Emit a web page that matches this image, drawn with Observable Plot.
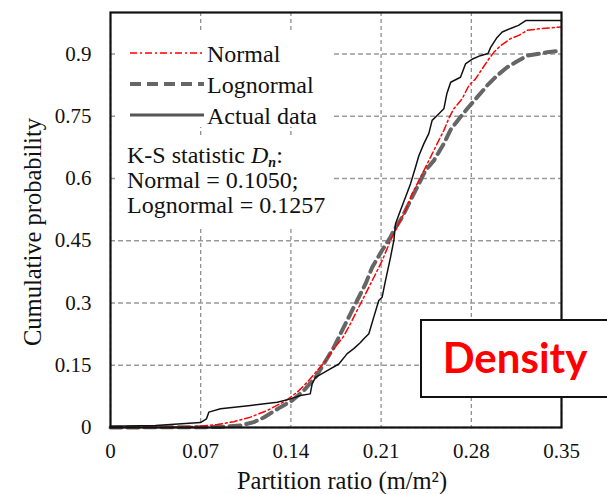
<!DOCTYPE html>
<html>
<head>
<meta charset="utf-8">
<script src="https://cdn.jsdelivr.net/npm/d3@7"></script>
<script src="https://cdn.jsdelivr.net/npm/@observablehq/plot@0.6"></script>
<style>
  html, body { margin: 0; padding: 0; background: white; overflow: hidden; }
  #chart { width: 607px; height: 494px; position: relative; }
</style>
</head>
<body>
<div id="chart"></div>
<script>
// ---- Data ----
const xTicks = [0, 0.07, 0.14, 0.21, 0.28, 0.35];
const xTickLabels = ["0", "0.07", "0.14", "0.21", "0.28", "0.35"];
const yTicks = [0, 0.15, 0.3, 0.45, 0.6, 0.75, 0.9];
const yTickLabels = ["0", "0.15", "0.3", "0.45", "0.6", "0.75", "0.9"];

const actualX = [0, 0.035, 0.0698, 0.0745, 0.0763, 0.0854, 0.1087, 0.1294, 0.1397, 0.1474, 0.155, 0.1565, 0.1591, 0.1682, 0.1772, 0.1837, 0.1888, 0.194, 0.1966, 0.2005, 0.2043, 0.2082, 0.2108, 0.2134, 0.2173, 0.2199, 0.2212, 0.225, 0.2289, 0.2328, 0.2367, 0.2393, 0.2432, 0.247, 0.2496, 0.2535, 0.2587, 0.261, 0.264, 0.2716, 0.2755, 0.281, 0.287, 0.293, 0.295, 0.300, 0.304, 0.310, 0.3166, 0.3225, 0.35];
const actualY = [0.003, 0.005, 0.012, 0.021, 0.037, 0.045, 0.053, 0.061, 0.069, 0.077, 0.081, 0.105, 0.121, 0.137, 0.153, 0.178, 0.190, 0.205, 0.214, 0.226, 0.266, 0.306, 0.314, 0.354, 0.410, 0.451, 0.491, 0.523, 0.555, 0.587, 0.627, 0.655, 0.684, 0.708, 0.740, 0.752, 0.768, 0.804, 0.832, 0.844, 0.876, 0.888, 0.896, 0.901, 0.916, 0.940, 0.953, 0.961, 0.969, 0.981, 0.981];

const normalX = [0, 0.05, 0.07, 0.0828, 0.0957, 0.1087, 0.1216, 0.1358, 0.1449, 0.1526, 0.1604, 0.1669, 0.1733, 0.181, 0.1862, 0.1927, 0.1992, 0.2057, 0.2108, 0.2173, 0.2199, 0.2237, 0.229, 0.234, 0.2393, 0.2432, 0.2483, 0.2535, 0.2587, 0.2626, 0.2664, 0.2729, 0.2781, 0.2833, 0.2884, 0.2936, 0.2975, 0.3027, 0.3104, 0.3169, 0.3234, 0.3337, 0.35];
const normalY = [0, 0.001, 0.003, 0.007, 0.014, 0.025, 0.041, 0.064, 0.085, 0.109, 0.137, 0.161, 0.190, 0.220, 0.250, 0.290, 0.330, 0.370, 0.402, 0.451, 0.467, 0.491, 0.523, 0.563, 0.595, 0.619, 0.651, 0.684, 0.716, 0.745, 0.768, 0.792, 0.824, 0.840, 0.864, 0.888, 0.904, 0.920, 0.937, 0.945, 0.957, 0.961, 0.965];

const lognormalX = [0, 0.085, 0.1009, 0.1112, 0.119, 0.1319, 0.141, 0.150, 0.1591, 0.1655, 0.1733, 0.1798, 0.1862, 0.1914, 0.1979, 0.2031, 0.2108, 0.2173, 0.2199, 0.2264, 0.2328, 0.238, 0.2444, 0.2509, 0.2587, 0.264, 0.2716, 0.2768, 0.2846, 0.2923, 0.300, 0.3078, 0.3143, 0.3234, 0.3389, 0.35];
const lognormalY = [0, 0.001, 0.005, 0.013, 0.024, 0.049, 0.065, 0.089, 0.121, 0.153, 0.193, 0.234, 0.274, 0.306, 0.346, 0.386, 0.427, 0.459, 0.475, 0.507, 0.547, 0.579, 0.619, 0.643, 0.684, 0.718, 0.748, 0.768, 0.796, 0.824, 0.848, 0.868, 0.880, 0.896, 0.904, 0.908];

const seriesNames = ["Normal", "Lognormal", "Actual data"];
const ksLines = ["K-S statistic ", "Normal = 0.1050;", "Lognormal = 0.1257"];

const toRows = (xs, ys) => xs.map((x, i) => ({x, y: ys[i]}));
const actual = toRows(actualX, actualY);
const normal = toRows(normalX, normalY);
const lognormal = toRows(lognormalX, lognormalY);

const serif = "'Liberation Serif', 'DejaVu Serif', serif";

const plot = Plot.plot({
  width: 607,
  height: 494,
  marginLeft: 110,
  marginRight: 46,
  marginTop: 12,
  marginBottom: 67,
  style: {fontFamily: serif, fontSize: "21px", color: "#111", background: "white"},
  x: {domain: [0, 0.35]},
  y: {domain: [0, 1]},
  marks: [
    Plot.gridX(xTicks, {stroke: "#888", strokeOpacity: 1, strokeWidth: 1.2, strokeDasharray: "4,3"}),
    Plot.gridY(yTicks, {stroke: "#999", strokeOpacity: 1, strokeWidth: 1.6, strokeDasharray: "5,3"}),
    Plot.line(lognormal, {x: "x", y: "y", stroke: "#666", strokeWidth: 4, strokeDasharray: "11,6"}),
    Plot.line(normal, {x: "x", y: "y", stroke: "#ff0000", strokeWidth: 1.5, strokeDasharray: "7,3,2,3"}),
    Plot.line(actual, {x: "x", y: "y", stroke: "#111", strokeWidth: 1.5}),
    Plot.frame({stroke: "#111", strokeWidth: 2.2}),
    Plot.axisX({ticks: xTicks, tickFormat: (d, i) => xTickLabels[i], tickSize: 0, tickPadding: 16, fontSize: 21, label: null}),
    Plot.axisY({ticks: yTicks, tickFormat: (d, i) => yTickLabels[i], tickSize: 0, tickPadding: 19, fontSize: 21, label: null}),
    Plot.text(["Partition ratio (m/m²)"], {frameAnchor: "bottom", dx: 6, dy: 54, lineAnchor: "middle", fontSize: 24.5, fill: "#111"}),
    Plot.text(["Cumulative probability"], {frameAnchor: "left", textAnchor: "middle", dx: -77, dy: 12, rotate: -90, lineAnchor: "middle", fontSize: 24.5, fill: "#111"})
  ]
});

document.getElementById("chart").appendChild(plot);

// ---- Legend and annotations ----
const svg = d3.select(plot);
const g = svg.append("g").attr("text-anchor", "start");
// white backgrounds covering grid behind legend and K-S text
g.append("rect").attr("x", 116).attr("y", 33).attr("width", 217).attr("height", 94).attr("fill", "white");
g.append("rect").attr("x", 116).attr("y", 137).attr("width", 217).attr("height", 91).attr("fill", "white");

const legendStyles = [
  {stroke: "#ff0000", width: 1.5, dash: "7,3,2,3"},
  {stroke: "#666", width: 4, dash: "11,6"},
  {stroke: "#555", width: 3, dash: null}
];
const legendY = [53, 84, 115];
seriesNames.forEach((name, i) => {
  const s = legendStyles[i];
  const ln = g.append("line").attr("x1", 130).attr("x2", 204).attr("y1", legendY[i]).attr("y2", legendY[i])
    .attr("stroke", s.stroke).attr("stroke-width", s.width);
  if (s.dash) ln.attr("stroke-dasharray", s.dash);
  g.append("text").attr("x", 207).attr("y", legendY[i] + 8.5).attr("font-family", serif).attr("font-size", 24)
    .attr("text-anchor", "start").attr("fill", "#111").text(name);
});

const ks = g.append("text").attr("font-family", serif).attr("font-size", 24).attr("fill", "#111").attr("text-anchor", "start");
ks.append("tspan").attr("x", 127).attr("y", 163).text(ksLines[0]);
ks.append("tspan").attr("font-style", "italic").text("D");
ks.append("tspan").attr("font-style", "italic").attr("font-weight", "bold").attr("font-size", 14).attr("baseline-shift", "-4").text("n");
ks.append("tspan").text(":");
ks.append("tspan").attr("x", 127).attr("y", 188).text(ksLines[1]);
ks.append("tspan").attr("x", 127).attr("y", 213).text(ksLines[2]);

// "Density" label box
g.append("rect").attr("x", 421).attr("y", 320).attr("width", 200).attr("height", 77)
  .attr("fill", "white").attr("stroke", "#111").attr("stroke-width", 2);
g.append("text").attr("x", 515).attr("y", 373).attr("text-anchor", "middle")
  .attr("font-family", "Lato, 'Open Sans', sans-serif").attr("font-weight", "bold").attr("font-size", 42)
  .attr("fill", "#ff0000").text("Density");
</script>
</body>
</html>
